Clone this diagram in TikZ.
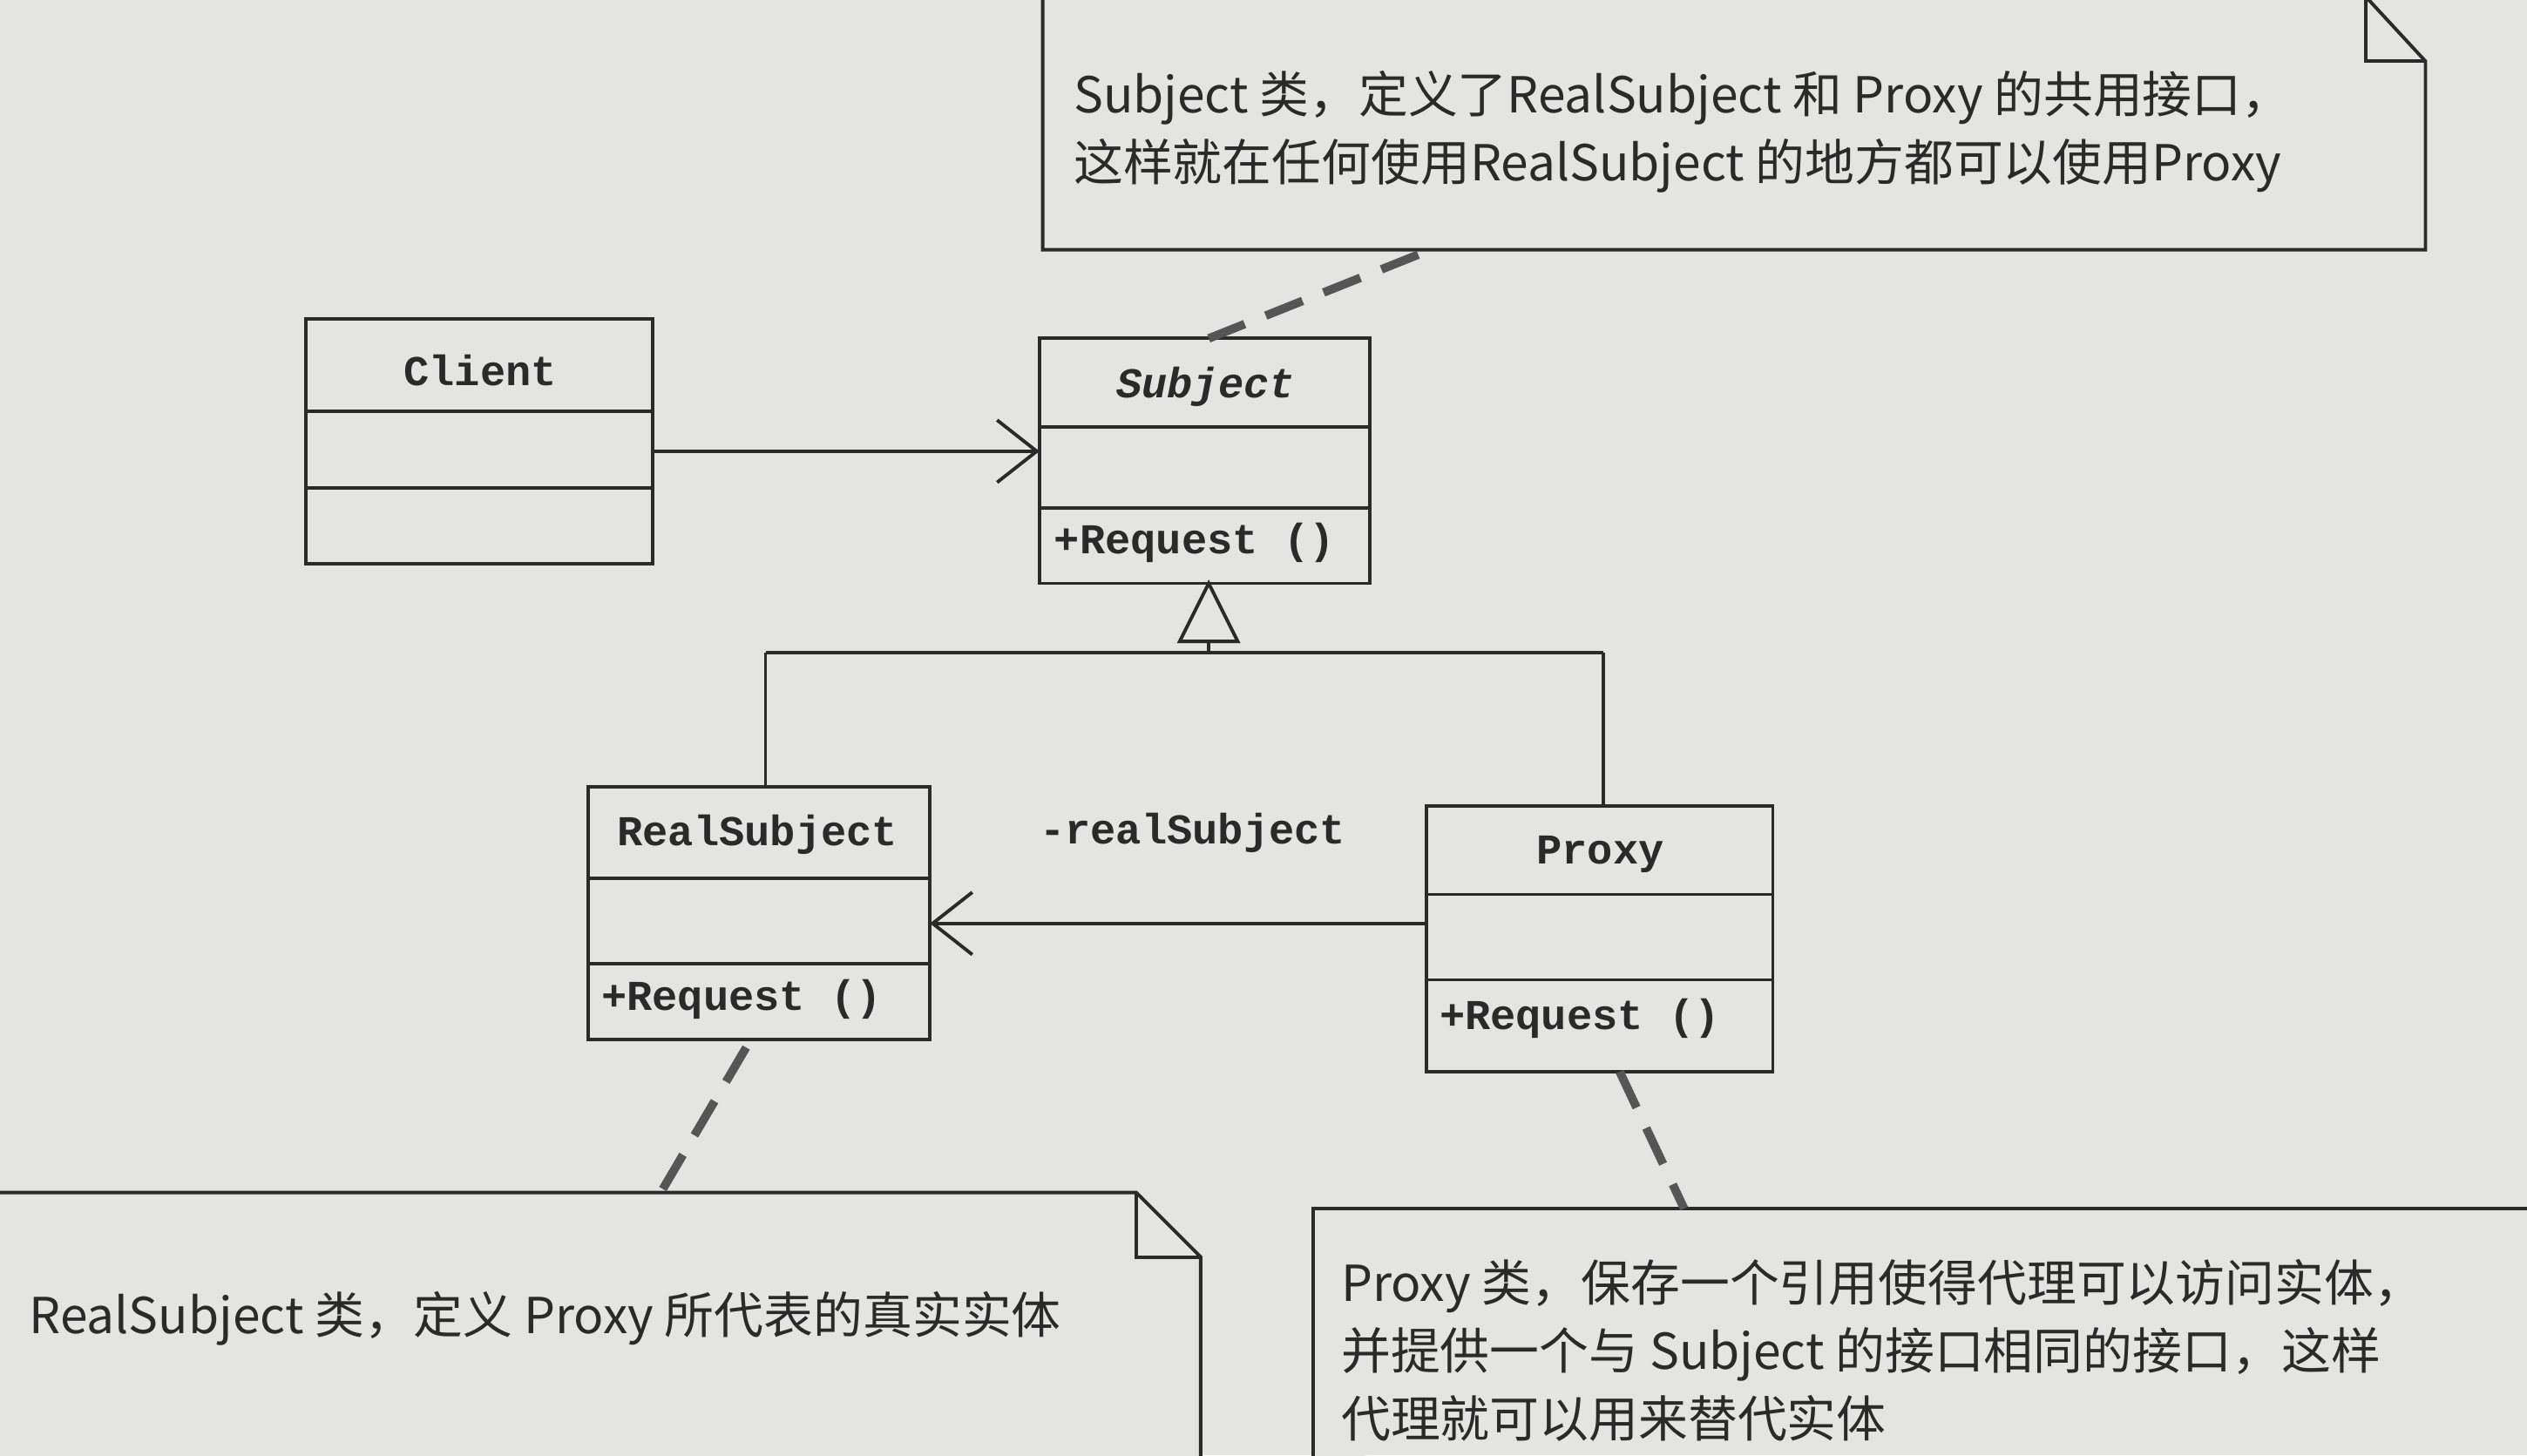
\documentclass[tikz,border=0pt]{standalone}
\usepackage{fontspec}
\setmainfont{Noto Sans CJK SC}
\newfontfamily\monof{Liberation Mono}
\usetikzlibrary{arrows.meta}
\definecolor{bg}{HTML}{E4E4E2}
\definecolor{ink}{HTML}{2A2A2A}
\tikzset{x=0.02cm,y=-0.02cm,
 box/.style={draw=ink,line width=1.2pt},
 ln/.style={draw=ink,line width=1.2pt},
 dsh/.style={draw=ink!80,line width=3pt,dash pattern=on 14pt off 8pt},
 lbl/.style={font=\monof\bfseries\fontsize{15}{18}\selectfont,text=ink},
 nt/.style={font=\fontsize{17.5}{24}\selectfont,text=ink,align=left,anchor=west},
 opn/.style={-{Straight Barb[length=14pt,width=22pt,line width=1.2pt]}}}
\begin{document}
\begin{tikzpicture}
\fill[bg] (0,0) rectangle (1568,903);
\useasboundingbox (0,0) rectangle (1568,903);
% Client
\draw[box] (190,198) rectangle (405,350);
\draw[ln] (190,255)--(405,255) (190,303)--(405,303);
\node[lbl] (client) at (298,230) {Client};
\coordinate (clr) at (405,280);
% Subject
\draw[box] (645,210) rectangle (850,362);
\draw[ln] (645,265)--(850,265) (645,315)--(850,315);
\node[lbl,font=\monof\bfseries\itshape\fontsize{15}{18}\selectfont] (subject) at (748,240) {Subject};
\node[lbl,anchor=west] at (648,337) {+Request ()};
\coordinate (sl) at (645,280);
\draw[ln,opn] (clr)--(sl);
% top note
\draw[box,fill=bg] (647,155)--(647,-2)--(1468,-2)--(1505,38)--(1505,155)--cycle;
\draw[ln] (1468,-2)--(1468,38)--(1505,38);
\node[nt] (n1) at (660,82) {Subject 类，定义了RealSubject 和 Proxy 的共用接口，\\这样就在任何使用RealSubject 的地方都可以使用Proxy};
\coordinate (n1b) at (880,158); \coordinate (st) at (750,210);
\draw[dsh] (n1b)--(st);
% inheritance
\draw[ln] (750,362)--(768,398)--(732,398)--cycle;
\draw[ln] (750,398)--(750,405) (475,405)--(995,405) (475,405)--(475,488) (995,405)--(995,500);
% RealSubject
\draw[box] (365,488) rectangle (577,645);
\draw[ln] (365,545)--(577,545) (365,598)--(577,598);
\node[lbl] (rs) at (470,518) {RealSubject};
\node[lbl,anchor=west] at (367,620) {+Request ()};
% Proxy
\draw[box] (885,500) rectangle (1100,665);
\draw[ln] (885,555)--(1100,555) (885,608)--(1100,608);
\node[lbl] (px) at (993,530) {Proxy};
\node[lbl,anchor=west] at (887,632) {+Request ()};
\coordinate (pl) at (885,573); \coordinate (rr) at (577,573);
\draw[ln,opn] (pl)--(rr);
\node[lbl] at (740,517) {-realSubject};
% bottom-left note
\draw[box,fill=bg] (-2,740)--(705,740)--(745,780)--(745,910)--(-2,910)--cycle;
\draw[ln] (705,740)--(705,780)--(745,780);
\node[nt] (n2) at (12,818) {RealSubject 类，定义 Proxy 所代表的真实实体};
\draw[dsh] (463,650)--(410,740);
% bottom-right note
\draw[box,fill=bg] (815,910)--(815,750)--(1575,750);
\node[nt] (n3) at (826,838) {Proxy 类，保存一个引用使得代理可以访问实体，\\并提供一个与 Subject 的接口相同的接口，这样\\代理就可以用来替代实体};
\draw[dsh] (1005,665)--(1045,750);
\end{tikzpicture}
\end{document}
